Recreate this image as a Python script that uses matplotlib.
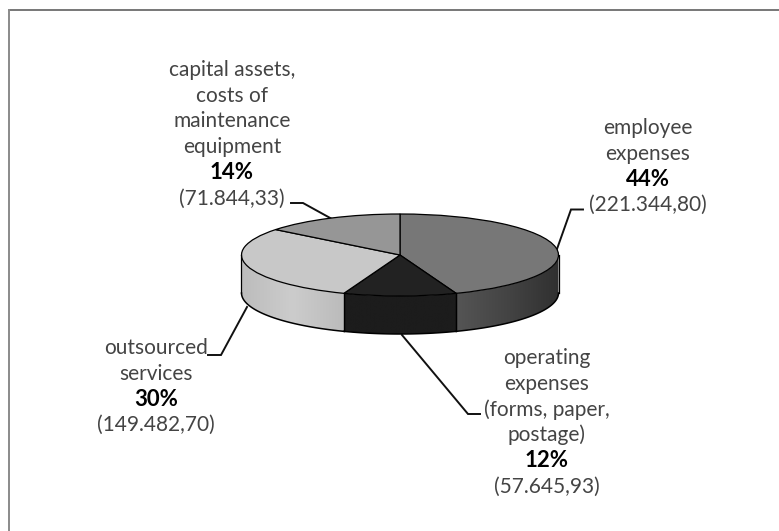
import numpy as np
import matplotlib
matplotlib.use("Agg")
import matplotlib.pyplot as plt
from matplotlib.colors import LinearSegmentedColormap
from matplotlib.patches import Polygon

W = 779
H = 531

values = [221344.80, 57645.93, 149482.70, 71844.33]
top_colors = ["#777777", "#222222", "#c8c8c8", "#969696"]
# left / middle / right shade of the visible side of each slice
side_shades = [
    ["#555555", "#444444", "#303030"],
    ["#1c1c1c", "#1c1c1c", "#1c1c1c"],
    ["#bcbcbc", "#cccccc", "#bbbbbb"],
    ["#969696", "#969696", "#969696"],
]

label_lines = [
    ["employee", "expenses", "44%", "(221.344,80)"],
    ["operating", "expenses", "(forms, paper,", "postage)", "12%", "(57.645,93)"],
    ["outsourced", "services", "30%", "(149.482,70)"],
    ["capital assets,", "costs of", "maintenance", "equipment", "14%", "(71.844,33)"],
]
label_centers = [648, 547, 156, 232]
label_tops = [128, 358, 348, 70]
leaders = [
    ([557, 571, 583], [249, 209.5, 209.5]),
    ([402, 468, 480], [335, 414, 414]),
    ([247, 221, 208], [307, 355, 355]),
    ([332, 303, 291], [219, 203, 203]),
]

cx, cy = 400, 255
rx, ry = 158.5, 41
depth = 38
line_step = 25.7

plt.rcParams["font.family"] = ["Lato", "DejaVu Sans"]
fig = plt.figure(figsize=(W / 100, H / 100), dpi=100)

# background axes works in image pixels
ax = fig.add_axes([0, 0, 1, 1])
ax.set_xlim(0, W)
ax.set_ylim(H, 0)
ax.axis("off")
ax.plot([9, W], [10, 10], color="#606060", lw=1.2)
ax.plot([9, 9], [H, 10], color="#8a8a8a", lw=1.4)

for xs, ys in leaders:
    ax.plot(xs, ys, color="#111111", lw=1.4, solid_joinstyle="miter")

for lines, x, top in zip(label_lines, label_centers, label_tops):
    for i, line in enumerate(lines):
        bold = line.endswith("%")
        ax.text(x, top + i * line_step, line, ha="center", va="center",
                fontsize=16 if bold else 15, color="#000000" if bold else "#444444",
                fontweight="bold" if bold else "normal")

# pie axes: one unit is rx pixels wide and ry pixels high
pad = 1.1
d = depth / ry
y_low = -1 - d - 0.1
y_high = 1.1
pie_ax = fig.add_axes([(cx - pad * rx) / W, (H - cy + y_low * ry) / H,
                       2 * pad * rx / W, (y_high - y_low) * ry / H])
pie_ax.patch.set_alpha(0)

fractions = np.array(values) / sum(values)
bounds = np.concatenate([[0], np.cumsum(fractions)]) * 2 * np.pi

# side of the disc, front half only
for k in range(len(values)):
    a0 = max(bounds[k], np.pi / 2)
    a1 = min(bounds[k + 1], 3 * np.pi / 2)
    if a1 <= a0:
        continue
    steps = np.linspace(a0, a1, 80)
    xs = np.sin(steps)
    ys = np.cos(steps)
    outline = np.column_stack([np.r_[xs, xs[::-1]], np.r_[ys, ys[::-1] - d]])
    shape = Polygon(outline, closed=True, fc="none", ec="none")
    pie_ax.add_patch(shape)
    cmap = LinearSegmentedColormap.from_list("side", side_shades[k])
    gradient = np.linspace(0, 1, 256).reshape(1, -1)
    img = pie_ax.imshow(gradient, cmap=cmap, aspect="auto", extent=[xs.min(), xs.max(), -1 - d, 1])
    img.set_clip_path(shape)
    pie_ax.plot(xs, ys - d, color="black", lw=1.1)
    pie_ax.plot([xs[0], xs[0]], [ys[0], ys[0] - d], color="black", lw=0.9)
    pie_ax.plot([xs[-1], xs[-1]], [ys[-1], ys[-1] - d], color="black", lw=0.9)

pie_ax.pie(values, colors=top_colors, startangle=90, counterclock=False, radius=1,
           wedgeprops={"edgecolor": "black", "linewidth": 0.9})
pie_ax.set_aspect("auto")
pie_ax.set_xlim(-pad, pad)
pie_ax.set_ylim(y_low, y_high)
pie_ax.axis("off")

fig.savefig("out.png", dpi=100)
